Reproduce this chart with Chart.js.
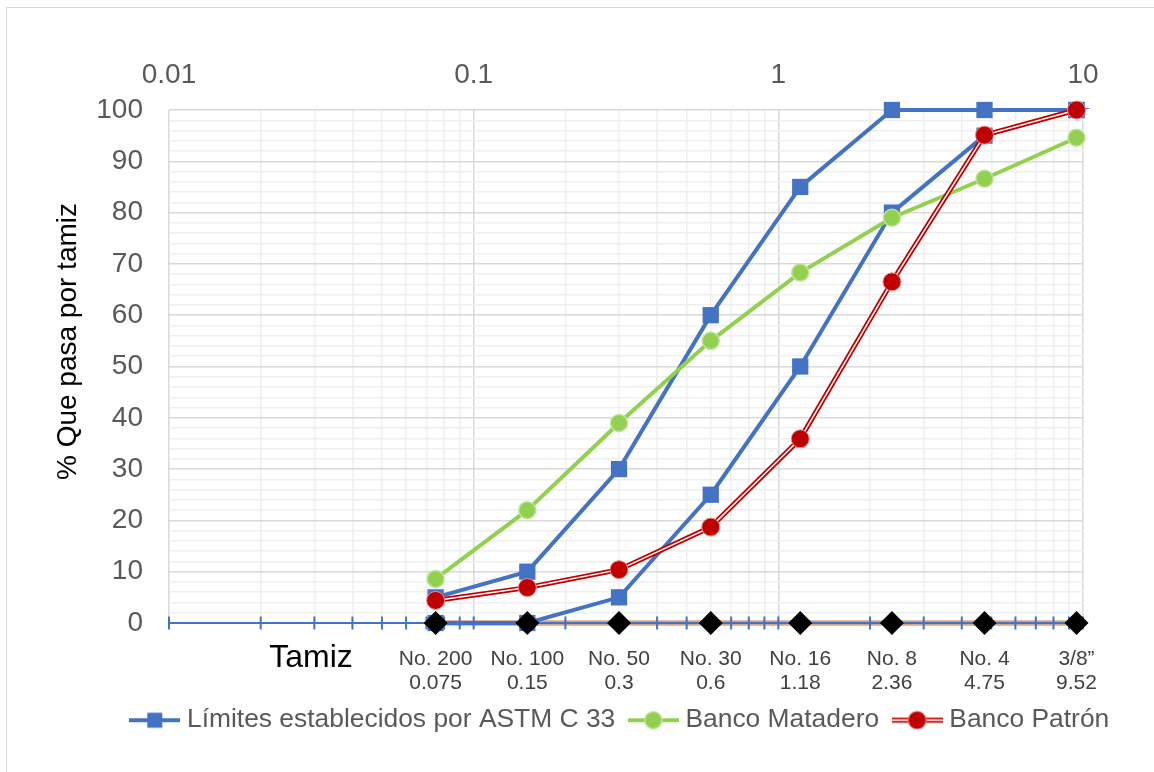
<!DOCTYPE html>
<html><head><meta charset="utf-8">
<script src="https://cdn.jsdelivr.net/npm/chart.js@4.4.1/dist/chart.umd.min.js"></script>
<style>
html,body{margin:0;padding:0;background:#fff;overflow:hidden;width:1154px;height:772px;}
#frame{position:absolute;left:6px;top:7px;width:1200px;height:820px;border:1.5px solid #d9d9d9;}
#c{position:absolute;left:0;top:0;}
</style></head><body>
<div id="frame"></div>
<canvas id="c" width="1154" height="772"></canvas>
<script>
const sieveSizes = [0.075, 0.15, 0.3, 0.6, 1.18, 2.36, 4.75, 9.52];
const sieveNames = ['No. 200','No. 100','No. 50','No. 30','No. 16','No. 8','No. 4','3/8\u201D'];
const sieveSizeLabels = ['0.075','0.15','0.3','0.6','1.18','2.36','4.75','9.52'];
const astmUpper = [5, 10, 30, 60, 85, 100, 100, 100];
const astmLower = [0, 0, 5, 25, 50, 80, 95, 100];
const bancoMatadero = [8.6, 22, 39, 55, 68.3, 79, 86.6, 94.6];
const bancoPatron = [4.4, 6.9, 10.4, 18.7, 35.9, 66.5, 95.1, 100];
const zeroLine = [0, 0, 0, 0, 0, 0, 0, 0];
const xTickLabels = [0.01, 0.1, 1, 10];
const yTickLabels = [0, 10, 20, 30, 40, 50, 60, 70, 80, 90, 100];
const legendLabels = ['Límites establecidos por ASTM C 33', 'Banco Matadero', 'Banco Patrón'];

const FAM = '"Liberation Sans", Arial, sans-serif';
Chart.defaults.font.family = FAM;

const pts = (ys) => sieveSizes.map((x, i) => ({x: x, y: ys[i]}));
const astmPath = pts(astmUpper).concat(pts(astmLower).reverse());

function makeIcon(kind) {
  const c = document.createElement('canvas');
  c.width = 51; c.height = 26;
  const g = c.getContext('2d');
  const cy = 13, cx = 25.5;
  const line = (col, w) => { g.strokeStyle = col; g.lineWidth = w; g.beginPath(); g.moveTo(0, cy); g.lineTo(51, cy); g.stroke(); };
  if (kind === 'blue') {
    line('#4472C4', 4);
    g.fillStyle = '#4472C4'; g.fillRect(cx - 7.5, cy - 7.5, 15, 15);
  } else if (kind === 'green') {
    line('#92D050', 4);
    g.beginPath(); g.arc(cx, cy, 8.5, 0, Math.PI * 2); g.fillStyle = '#92D050'; g.fill();
    g.strokeStyle = '#bfe39a'; g.lineWidth = 1.5; g.stroke();
  } else {
    line('#C00000', 5); line('#ffffff', 1.5);
    g.beginPath(); g.arc(cx, cy, 9, 0, Math.PI * 2); g.fillStyle = '#C00000'; g.fill();
    g.strokeStyle = '#e88e8e'; g.lineWidth = 1; g.stroke();
  }
  return c;
}
const icons = [makeIcon('blue'), makeIcon('green'), makeIcon('red')];

const axisPlugin = {
  id: 'zeroAxis',
  afterDatasetDraw(chart, args) {
    if (args.index !== 5) return;
    const ctx = chart.ctx, xs = chart.scales.x, ys = chart.scales.y, a = chart.chartArea;
    const y0 = ys.getPixelForValue(0);
    ctx.save();
    ctx.strokeStyle = '#4472C4';
    ctx.lineWidth = 2;
    ctx.beginPath(); ctx.moveTo(a.left, y0); ctx.lineTo(a.right, y0); ctx.stroke();
    xs.ticks.forEach(t => {
      const px = xs.getPixelForValue(t.value);
      ctx.beginPath(); ctx.moveTo(px, y0 - 6.5); ctx.lineTo(px, y0 + 6.5); ctx.stroke();
    });
    ctx.restore();
  }
};

const legendShift = {
  id: 'legendShift',
  afterLayout(chart) {
    const l = chart.legend;
    if (!l) return;
    l.left += 81; l.right += 81;
    l.top -= 10; l.bottom -= 10;
  }
};

const textPlugin = {
  id: 'extraText',
  afterDraw(chart) {
    const ctx = chart.ctx, a = chart.chartArea;
    ctx.save();
    ctx.fillStyle = '#000';
    ctx.textAlign = 'center';
    ctx.textBaseline = 'middle';
    ctx.font = '32px ' + FAM;
    ctx.fillText('Tamiz', a.left + 142, a.bottom + 35);
    ctx.translate(a.left - 101, (a.top + a.bottom) / 2 - 25);
    ctx.rotate(-Math.PI / 2);
    ctx.font = '28px ' + FAM;
    ctx.fillText('% Que pasa por tamiz', 0, 0);
    ctx.restore();
  }
};

new Chart(document.getElementById('c'), {
  type: 'line',
  data: {
    datasets: [
      { label: legendLabels[0], data: astmPath, borderColor: '#4472C4', borderWidth: 4,
        pointStyle: 'rect', pointRadius: 11.5, pointBackgroundColor: '#4472C4', pointBorderWidth: 0,
        tension: 0, order: 10, clip: false },
      { label: legendLabels[1], data: pts(bancoMatadero), borderColor: '#92D050', borderWidth: 4,
        pointStyle: 'circle', pointRadius: 8.5, pointBackgroundColor: '#92D050', pointBorderColor: '#bfe39a', pointBorderWidth: 1.5,
        tension: 0, order: 8, clip: false },
      { label: 'patronLine', data: pts(bancoPatron), borderColor: '#C00000', borderWidth: 5,
        pointRadius: 0, tension: 0, order: 7, clip: false },
      { label: 'patronInner', data: pts(bancoPatron), borderColor: '#ffffff', borderWidth: 1.5,
        pointRadius: 0, tension: 0, order: 6, clip: false },
      { label: legendLabels[2], data: pts(bancoPatron), showLine: false,
        pointStyle: 'circle', pointRadius: 9, pointBackgroundColor: '#C00000', pointBorderColor: '#e88e8e', pointBorderWidth: 1,
        order: 5, clip: false },
      { label: 'zero', data: pts(zeroLine), borderColor: '#d9a57e', borderWidth: 5.5,
        pointRadius: 0, tension: 0, order: 20, clip: false },
      { label: 'sieves', data: pts(zeroLine), showLine: false,
        pointStyle: 'rectRot', pointRadius: 12, pointBackgroundColor: '#000000', pointBorderWidth: 0,
        order: 0, clip: false }
    ]
  },
  options: {
    responsive: false,
    animation: false,
    devicePixelRatio: 1,
    layout: { padding: { top: 0, left: 0, right: 71, bottom: 18.6 } },
    plugins: {
      tooltip: { enabled: false },
      legend: {
        position: 'bottom',
        fullSize: true,
        labels: {
          usePointStyle: true,
          pointStyleWidth: 38,
          padding: 19,
          color: '#595959',
          font: { size: 26.4, family: FAM },
          generateLabels: () => legendLabels.map((t, i) => ({
            text: t, pointStyle: icons[i], fontColor: '#595959', hidden: false,
            datasetIndex: [0, 1, 4][i], lineWidth: 0, strokeStyle: 'rgba(0,0,0,0)', fillStyle: 'rgba(0,0,0,0)'
          }))
        }
      }
    },
    scales: {
      x: {
        type: 'logarithmic', position: 'top', min: 0.01, max: 10,
        afterBuildTicks: (s) => {
          const t = [];
          for (let e = -2; e <= 0; e++) for (let m = 1; m <= 9; m++) t.push({ value: +(m * Math.pow(10, e)).toPrecision(10) });
          t.push({ value: 10 });
          s.ticks = t;
        },
        afterFit: (s) => { s.height = 110; },
        ticks: {
          autoSkip: false, maxRotation: 0, minRotation: 0, padding: 18, color: '#595959',
          font: { size: 28, family: FAM },
          callback: (v) => xTickLabels.includes(v) ? String(v) : ''
        },
        grid: {
          drawTicks: false, lineWidth: 1.5,
          color: (c) => (c.tick && xTickLabels.includes(c.tick.value)) ? '#d9d9d9' : '#efefef'
        },
        border: { display: false }
      },
      x2: {
        type: 'logarithmic', position: 'bottom', min: 0.01, max: 10,
        afterBuildTicks: (s) => { s.ticks = sieveSizes.map(v => ({ value: v })); },
        afterFit: (s) => { s.height = 75; },
        ticks: {
          autoSkip: false, maxRotation: 0, minRotation: 0, padding: 16, color: '#404040',
          font: { size: 21, family: FAM, lineHeight: '24px' },
          callback: (v, i) => [sieveNames[i], sieveSizeLabels[i]]
        },
        grid: { display: false },
        border: { display: false }
      },
      y: {
        type: 'linear', min: 0, max: 100,
        afterBuildTicks: (s) => { const t = []; for (let v = 0; v <= 100; v += 2) t.push({ value: v }); s.ticks = t; },
        afterFit: (s) => { s.width = 169; },
        ticks: {
          autoSkip: false, padding: 26, color: '#595959',
          font: { size: 28, family: FAM },
          callback: (v) => yTickLabels.includes(v) ? String(v) : ''
        },
        grid: {
          drawTicks: false, lineWidth: 1.5,
          color: (c) => (c.tick && c.tick.value % 10 === 0) ? '#d9d9d9' : '#efefef'
        },
        border: { display: false }
      }
    }
  },
  plugins: [axisPlugin, legendShift, textPlugin]
});
</script>
</body></html>
